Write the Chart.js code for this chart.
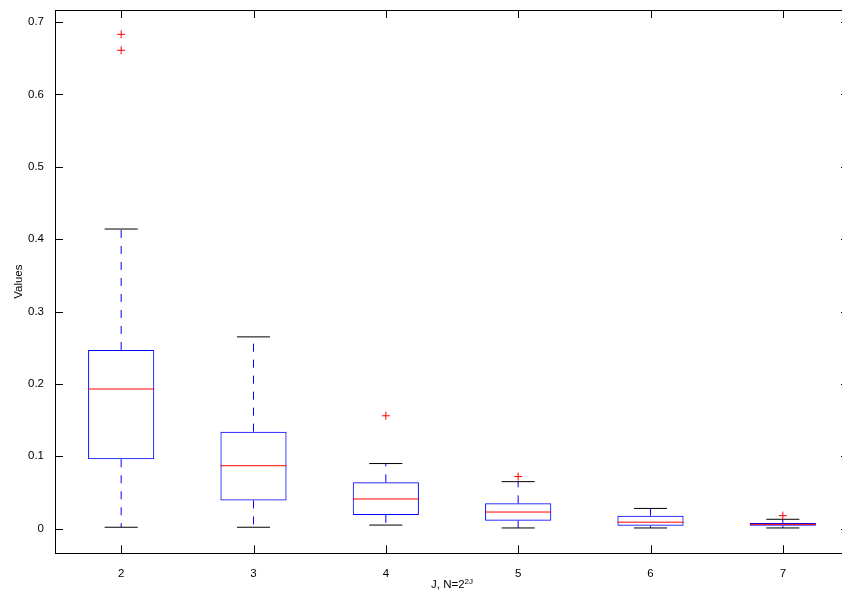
<!DOCTYPE html>
<html>
<head>
<meta charset="utf-8">
<script src="https://cdn.jsdelivr.net/npm/chart.js@4.4.1/dist/chart.umd.min.js"></script>
<style>
  html, body { margin: 0; padding: 0; background: #fff; overflow: hidden; }
  #wrap { position: relative; width: 842px; height: 594px; overflow: hidden; }
  #c { display: block; }
  #xlabel {
    position: absolute; top: 578px; left: 452px; transform: translateX(-50%);
    font: 11.5px "Liberation Sans", Arial, sans-serif; color: #000; white-space: nowrap; line-height: 12px;
  }
  #xlabel sup { font-size: 8px; vertical-align: 4px; line-height: 0; }
</style>
</head>
<body>
<div id="wrap"><canvas id="c" width="850" height="594"></canvas><div id="xlabel">J, N=2<sup>2J</sup></div></div>
<script>
Chart.defaults.font.family = '"Liberation Sans", Arial, sans-serif';
Chart.defaults.font.size = 11.5;
Chart.defaults.color = '#000';

// boxplot stats per J
const J = [2, 3, 4, 5, 6, 7];
const upperWhisker = [0.414, 0.265, 0.090, 0.065, 0.028, 0.013];
const q3 = [0.247, 0.134, 0.064, 0.035, 0.018, 0.008];
const median = [0.193, 0.087, 0.041, 0.023, 0.009, 0.006];
const q1 = [0.096, 0.039, 0.019, 0.011, 0.004, 0.004];
const lowerWhisker = [0.002, 0.002, 0.005, 0.001, 0.001, 0.001];
const outliers = [[0.683, 0.661], [], [0.156], [0.072], [], [0.018]];
const yTicks = [0, 0.1, 0.2, 0.3, 0.4, 0.5, 0.6, 0.7];
const yTickLabels = ['0', '0.1', '0.2', '0.3', '0.4', '0.5', '0.6', '0.7'];

const BOX_HALF = 0.25, CAP_HALF = 0.125;
const gap = x => ({ x, y: null });

// horizontal segments (median, caps) and vertical whiskers, separated by gaps
const medianPts = J.flatMap((j, i) => [{ x: j - BOX_HALF, y: median[i] }, { x: j + BOX_HALF, y: median[i] }, gap(j + BOX_HALF)]);
const capPts = J.flatMap((j, i) => [
  { x: j - CAP_HALF, y: upperWhisker[i] }, { x: j + CAP_HALF, y: upperWhisker[i] }, gap(j + CAP_HALF),
  { x: j - CAP_HALF, y: lowerWhisker[i] }, { x: j + CAP_HALF, y: lowerWhisker[i] }, gap(j + CAP_HALF)]);
const whiskerPts = J.flatMap((j, i) => [
  { x: j, y: q3[i] }, { x: j, y: upperWhisker[i] }, gap(j),
  { x: j, y: q1[i] }, { x: j, y: lowerWhisker[i] }, gap(j)]);
const outlierPts = J.flatMap((j, i) => outliers[i].map(v => ({ x: j, y: v })));

// MATLAB style box: frame all round with inward ticks
const frame = {
  id: 'frame',
  afterDraw(chart) {
    const { ctx, chartArea: a, scales: { x, y } } = chart;
    const L = 8;
    ctx.save();
    ctx.strokeStyle = '#000';
    ctx.lineWidth = 1;
    ctx.strokeRect(Math.round(a.left) + 0.5, Math.round(a.top) + 0.5, Math.round(a.right - a.left), Math.round(a.bottom - a.top));
    ctx.beginPath();
    J.forEach(v => {
      const px = Math.round(x.getPixelForValue(v)) + 0.5;
      ctx.moveTo(px, a.bottom); ctx.lineTo(px, a.bottom - L);
      ctx.moveTo(px, a.top); ctx.lineTo(px, a.top + L);
    });
    yTicks.forEach(v => {
      const py = Math.round(y.getPixelForValue(v)) + 0.5;
      ctx.moveTo(a.left, py); ctx.lineTo(a.left + L, py);
      ctx.moveTo(a.right, py); ctx.lineTo(a.right - L, py);
    });
    ctx.stroke();
    ctx.restore();
  }
};

const chart = new Chart(document.getElementById('c'), {
  type: 'bar',
  data: {
    datasets: [
      {
        type: 'line', data: whiskerPts, borderColor: '#0000ff', borderWidth: 1,
        borderDash: [8, 8], pointRadius: 0, spanGaps: false, order: 4,
      },
      {
        type: 'bar', data: J.map((j, i) => ({ x: j, y: [q1[i], q3[i]] })),
        backgroundColor: 'rgba(0,0,0,0)', borderColor: '#0000ff', borderWidth: 1,
        borderSkipped: false, barPercentage: 0.5, categoryPercentage: 1, order: 3,
      },
      {
        type: 'line', data: capPts, borderColor: '#000', borderWidth: 1,
        pointRadius: 0, spanGaps: false, order: 2,
      },
      {
        type: 'line', data: medianPts, borderColor: '#ff0000', borderWidth: 1,
        pointRadius: 0, spanGaps: false, order: 1,
      },
      {
        type: 'scatter', data: outlierPts, pointStyle: 'cross', pointRadius: 4,
        borderColor: '#ff0000', backgroundColor: '#ff0000', borderWidth: 1, order: 0,
      },
    ],
  },
  options: {
    responsive: false, animation: false, devicePixelRatio: 1,
    // autoPadding would pull the right edge in for the outlier markers
    layout: { autoPadding: false, padding: { left: 0, top: 10, right: 1, bottom: 0 } },
    plugins: { legend: { display: false }, tooltip: { enabled: false } },
    scales: {
      x: {
        type: 'linear', min: 1.5, max: 7.5, offset: false,
        grid: { display: false }, border: { display: false },
        ticks: { padding: 6, callback: v => String(v) },
        afterBuildTicks: s => { s.ticks = J.map(v => ({ value: v })); },
        afterFit: s => { s.height = 40.7; },
      },
      y: {
        min: -0.034, max: 0.7166,
        grid: { display: false }, border: { display: false },
        ticks: { padding: 3, callback: (v, i) => yTickLabels[i] },
        afterBuildTicks: s => { s.ticks = yTicks.map(v => ({ value: v })); },
        afterFit: s => { s.width = 55; },
        title: { display: true, text: 'Values', padding: { top: 12, bottom: 0 } },
      },
    },
  },
  plugins: [frame],
});
</script>
</body>
</html>
